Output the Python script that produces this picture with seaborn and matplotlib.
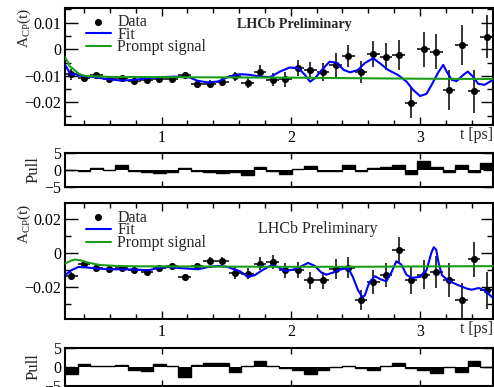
import numpy as np
import matplotlib
matplotlib.use("Agg")
import matplotlib.pyplot as plt
import seaborn as sns
from matplotlib.ticker import MultipleLocator, FixedLocator, FuncFormatter

# ---------------- data ----------------
t_lo, t_hi, n_bins = 0.252, 3.565, 34
t_edges = np.linspace(t_lo, t_hi, n_bins + 1)
t_centers = 0.5 * (t_edges[:-1] + t_edges[1:])
bin_w = t_edges[1] - t_edges[0]

top_A = [-0.0095, -0.0109, -0.0098, -0.0113, -0.0109, -0.0119, -0.0115, -0.0113, -0.0113, -0.0097,
         -0.0130, -0.0130, -0.0122, -0.0102, -0.0128, -0.0084, -0.0115, -0.0113, -0.0071, -0.0078,
         -0.0087, -0.0059, -0.0024, -0.0087, -0.0018, -0.0028, -0.0021, -0.0201, 0.0000, -0.0009,
         -0.0153, 0.0016, -0.0159, 0.0047]
top_err = [0.0020, 0.0008, 0.0008, 0.0008, 0.0008, 0.0009, 0.0009, 0.0010, 0.0010, 0.0011,
           0.0012, 0.0013, 0.0015, 0.0018, 0.0019, 0.0025, 0.0025, 0.0028, 0.0031, 0.0031,
           0.0034, 0.0044, 0.0041, 0.0041, 0.0049, 0.0051, 0.0056, 0.0056, 0.0066, 0.0066,
           0.0075, 0.0075, 0.0081, 0.0081]
top_pull = [0.1, -0.4, 0.6, -0.1, 1.4, -0.3, -0.5, -1.0, -0.7, 0.6, -0.4, -0.5, -1.0, -0.7, -1.6,
            1.0, -0.3, -1.2, 0.3, 1.1, -0.4, -0.3, 1.4, -0.4, 0.5, 0.8, 1.6, -1.2, 2.6, 0.8,
            -0.7, 1.6, -0.7, 2.2]

top_fit_t = [0.252, 0.264, 0.29, 0.31, 0.33, 0.36, 0.40, 0.48, 0.587, 0.69, 0.79, 0.896, 1.0, 1.10,
             1.21, 1.28, 1.36, 1.44, 1.52, 1.606, 1.68, 1.76, 1.84, 1.916, 1.99, 2.057, 2.11, 2.148,
             2.187, 2.24, 2.30, 2.355, 2.41, 2.46, 2.52, 2.573, 2.638, 2.69, 2.754, 2.83, 2.896,
             2.947, 3.0, 3.05, 3.09, 3.14, 3.18, 3.206, 3.245, 3.283, 3.334, 3.37, 3.41, 3.45,
             3.50, 3.565]
top_fit_A = [-0.0058, -0.0068, -0.0090, -0.0096, -0.0093, -0.0099, -0.0101, -0.0105, -0.0113,
             -0.0118, -0.0115, -0.0109, -0.0105, -0.0103, -0.0105, -0.0119, -0.0125, -0.0121,
             -0.0103, -0.0094, -0.0096, -0.0103, -0.0105, -0.0084, -0.0069, -0.0070, -0.0097,
             -0.0122, -0.0109, -0.0078, -0.0047, -0.0051, -0.0078, -0.0087, -0.0078, -0.0052,
             -0.0034, -0.0053, -0.0078, -0.0097, -0.0122, -0.0153, -0.0176, -0.0168, -0.0134,
             -0.0088, -0.0059, -0.0084, -0.0115, -0.0120, -0.0097, -0.0084, -0.0103, -0.0130,
             -0.0134, -0.0115]
top_prompt_t = [0.252, 0.264, 0.29, 0.31, 0.36, 0.41, 0.6, 1.0, 1.5, 2.0, 2.5, 3.0, 3.565]
top_prompt_A = [-0.0030, -0.0040, -0.0065, -0.0072, -0.0093, -0.0101, -0.0104, -0.0105, -0.0106,
                -0.0107, -0.0109, -0.0111, -0.0112]

bot_A = [-0.0138, -0.0067, -0.0089, -0.0093, -0.0089, -0.0103, -0.0113, -0.0087, -0.0079, -0.0142,
         -0.0079, -0.0047, -0.0047, -0.0119, -0.0122, -0.0063, -0.0053, -0.0103, -0.0103, -0.0162,
         -0.0162, -0.0093, -0.0087, -0.0277, -0.0172, -0.0132, 0.0020, -0.0158, -0.0128, -0.0113,
         -0.0162, -0.0281, -0.0037, -0.0221]
bot_err = [0.0025, 0.0015, 0.0015, 0.0015, 0.0016, 0.0016, 0.0017, 0.0017, 0.0018, 0.0020,
           0.0022, 0.0024, 0.0024, 0.0034, 0.0030, 0.0040, 0.0040, 0.0044, 0.0047, 0.0050,
           0.0050, 0.0060, 0.0063, 0.0060, 0.0073, 0.0070, 0.0075, 0.0083, 0.0085, 0.0095,
           0.0100, 0.0103, 0.0105, 0.0110]
bot_pull = [-2.0, 0.9, 0.2, 0.3, 0.6, -0.9, -1.1, 0.9, 0.3, -2.7, 0.6, 1.2, 1.1, -1.3, 0.3,
            1.6, 0.3, -0.4, -0.8, -2.0, -0.8, 0.1, 0.3, -0.4, -0.8, 0.3, 1.1, -0.4, -0.8, -1.5,
            0.1, -1.3, 1.7, 0.1]

bot_fit_t = [0.252, 0.30, 0.355, 0.432, 0.51, 0.61, 0.716, 0.82, 0.896, 0.974, 1.05, 1.128, 1.206,
             1.283, 1.36, 1.44, 1.51, 1.606, 1.67, 1.72, 1.786, 1.85, 1.90, 1.954, 2.018, 2.07,
             2.134, 2.186, 2.238, 2.275, 2.34, 2.39, 2.443, 2.48, 2.52, 2.555, 2.573, 2.598, 2.61,
             2.65, 2.70, 2.74, 2.78, 2.817, 2.856, 2.895, 2.934, 3.0, 3.05, 3.09, 3.107, 3.125,
             3.145, 3.17, 3.222, 3.286, 3.325, 3.364, 3.40, 3.454, 3.506, 3.565]
bot_fit_A = [-0.0132, -0.0103, -0.0083, -0.0087, -0.0093, -0.0097, -0.0097, -0.0099, -0.0103,
             -0.0089, -0.0083, -0.0089, -0.0093, -0.0097, -0.0083, -0.0077, -0.0083, -0.0109,
             -0.0142, -0.0132, -0.0099, -0.0073, -0.0083, -0.0107, -0.0099, -0.0083, -0.0059,
             -0.0077, -0.0117, -0.0129, -0.0113, -0.0097, -0.0089, -0.0142, -0.0221, -0.0263,
             -0.0251, -0.0195, -0.0172, -0.0138, -0.0158, -0.0168, -0.0113, -0.0049, -0.0069,
             -0.0129, -0.0148, -0.0142, -0.0103, 0.0006, 0.0034, 0.0020, -0.0063, -0.0132,
             -0.0165, -0.0188, -0.0200, -0.0212, -0.0218, -0.0208, -0.0225, -0.0268]
bot_prompt_t = [0.252, 0.30, 0.33, 0.38, 0.43, 0.52, 0.65, 0.8, 1.5, 2.0, 2.5, 3.0, 3.565]
bot_prompt_A = [-0.0063, -0.0045, -0.0039, -0.0045, -0.0057, -0.0071, -0.0077, -0.0079, -0.0081,
                -0.0082, -0.0082, -0.0080, -0.0078]

# ---------------- style ----------------
sns.set_theme(style="ticks")
plt.rcParams["font.family"] = ["Liberation Serif", "DejaVu Serif"]
plt.rcParams["mathtext.fontset"] = "custom"
plt.rcParams["mathtext.rm"] = "Liberation Serif"
plt.rcParams["mathtext.it"] = "Liberation Serif:italic"
plt.rcParams["axes.linewidth"] = 1.5

FS = 11.5
BLUE = "#0000ff"
GREEN = "#1a9e1a"


def fmt_val(v, pos=None):
    if abs(v) < 1e-9:
        return "0"
    s = f"{v:.2f}" if abs(v) < 1 else f"{v:g}"
    return s.replace("-", "\u2212")


fig = plt.figure(figsize=(4.94, 3.87), dpi=100)
L, W = 65 / 494, 428 / 494
ax_top = fig.add_axes([L, 1 - 125 / 387, W, 117 / 387])
ax_tp = fig.add_axes([L, 1 - 186.7 / 387, W, 33.4 / 387])
ax_bot = fig.add_axes([L, 1 - 319 / 387, W, 115.7 / 387])
ax_bp = fig.add_axes([L, 1 - 385.7 / 387, W, 37.4 / 387])


def style_ticks(ax, ymajor, yminor, xlabels=True):
    ax.set_xlim(t_lo, t_hi)
    ax.xaxis.set_major_locator(FixedLocator([1, 2, 3]))
    ax.xaxis.set_minor_locator(MultipleLocator(0.2))
    ax.yaxis.set_major_locator(ymajor)
    ax.yaxis.set_minor_locator(yminor)
    ax.yaxis.set_major_formatter(FuncFormatter(fmt_val))
    ax.tick_params(which="both", direction="in", top=True, right=True, width=1.0,
                   labelsize=FS, colors="black")
    ax.tick_params(axis="x", which="major", length=6, pad=3.5)
    ax.tick_params(axis="x", which="minor", length=3.5)
    ax.tick_params(axis="y", which="major", length=9, pad=2.5)
    ax.tick_params(axis="y", which="minor", length=4.5)
    if not xlabels:
        ax.tick_params(axis="x", labelbottom=False)
    for s in ax.spines.values():
        s.set_color("black")
        s.set_linewidth(1.5)


def main_panel(ax, A, err, fit_t, fit_A, pr_t, pr_A, ylim, ymaj, ymin, lhcb_xy, lhcb_kw, leg_y):
    ax.errorbar(t_centers, A, yerr=err, xerr=bin_w / 2, fmt="none", ecolor="black",
                elinewidth=1.1, capsize=0, zorder=3)
    sns.scatterplot(x=t_centers, y=A, color="black", s=26, linewidth=0, label="Data",
                    ax=ax, zorder=4)
    sns.lineplot(x=fit_t, y=fit_A, color=BLUE, linewidth=1.5, label="Fit", ax=ax,
                 sort=False, zorder=5)
    sns.lineplot(x=pr_t, y=pr_A, color=GREEN, linewidth=1.5, label="Prompt signal", ax=ax,
                 sort=False, zorder=6)
    ax.set_ylim(*ylim)
    style_ticks(ax, ymaj, ymin)
    ax.set_xlabel("")
    ax.set_ylabel(r"A$_{\mathrm{CP}}$(t)", fontsize=11, loc="top")
    ax.yaxis.set_label_coords(-0.075, 1.0)
    ax.text(1.0, -0.015, "t [ps]", transform=ax.transAxes, ha="right", va="top", fontsize=FS)
    ax.text(lhcb_xy[0], lhcb_xy[1], "LHCb Preliminary", transform=ax.transAxes,
            ha="left", va="center", **lhcb_kw)
    h, l = ax.get_legend_handles_labels()
    order = [l.index(k) for k in ["Data", "Fit", "Prompt signal"]]
    ax.legend([h[i] for i in order], [l[i] for i in order], loc="upper left",
              bbox_to_anchor=(0.049, leg_y), frameon=False, fontsize=FS, borderpad=0,
              borderaxespad=0, handlelength=1.55, handletextpad=0.4, labelspacing=-0.2)


def pull_panel(ax, pull):
    ax.bar(t_centers, pull, width=bin_w, color="black", linewidth=0, zorder=2)
    ax.stairs(pull, t_edges, color="black", linewidth=1.0, baseline=None, zorder=3)
    ax.set_ylim(-5, 5)
    style_ticks(ax, FixedLocator([-5, 0, 5]), FixedLocator([]), xlabels=False)
    ax.tick_params(axis="y", which="major", length=7)
    ax.tick_params(axis="x", which="major", length=4)
    ax.tick_params(axis="x", which="minor", length=0)
    ax.set_ylabel("Pull", fontsize=12)
    ax.yaxis.set_label_coords(-0.056, 0.5)


main_panel(ax_top, top_A, top_err, top_fit_t, top_fit_A, top_prompt_t, top_prompt_A,
           (-0.0285, 0.0155), MultipleLocator(0.01), MultipleLocator(0.005),
           (0.402, 0.855), dict(fontsize=10.2, fontweight="bold"), 0.95)
main_panel(ax_bot, bot_A, bot_err, bot_fit_t, bot_fit_A, bot_prompt_t, bot_prompt_A,
           (-0.0392, 0.0295), MultipleLocator(0.02), MultipleLocator(0.01),
           (0.451, 0.775), dict(fontsize=11.5), 0.945)
pull_panel(ax_tp, top_pull)
pull_panel(ax_bp, bot_pull)

fig.savefig("out.png", dpi=100)
